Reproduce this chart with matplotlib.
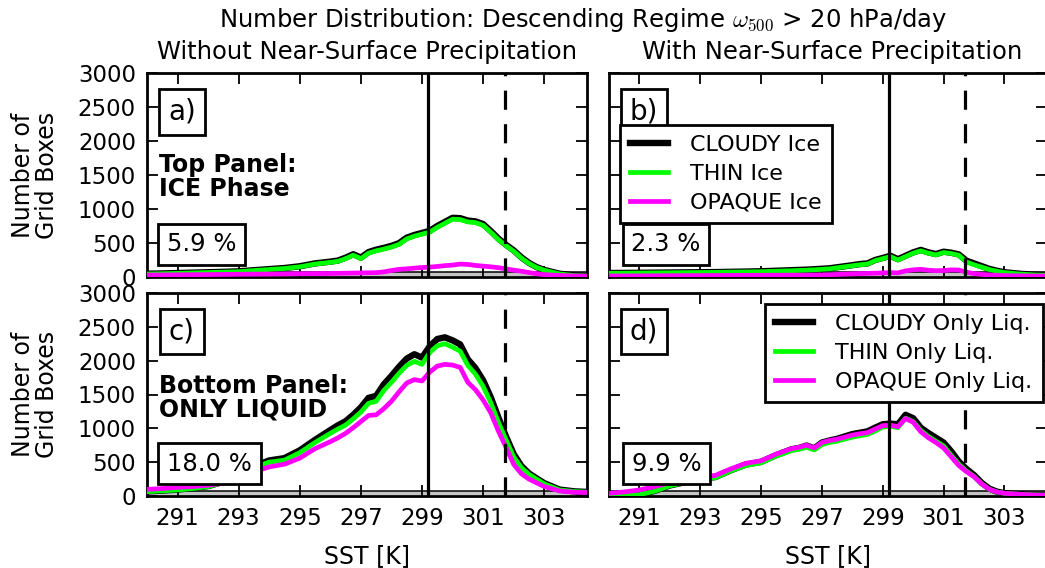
import matplotlib
matplotlib.use('Agg')
import matplotlib.pyplot as plt

plt.rcParams['font.family'] = ['DejaVu Sans']
plt.rcParams['mathtext.fontset'] = 'cm'

# SST bins [K]
sst = [290, 290.5, 291, 291.5, 292, 292.5, 293, 293.5, 294, 294.5, 295, 295.5, 296,
       296.25, 296.5, 296.75, 297, 297.25, 297.5, 297.75, 298, 298.25, 298.5, 298.75,
       299, 299.25, 299.5, 299.75, 300, 300.25, 300.5, 300.75, 301, 301.25, 301.5,
       301.75, 302, 302.25, 302.5, 302.75, 303, 303.5, 304, 304.5]

# a) ice phase, without near-surface precipitation
a_cloudy = [48, 52, 58, 64, 70, 76, 83, 100, 116, 132, 158, 200, 226,
            242, 284, 335, 285, 366, 402, 428, 458, 498, 578, 618, 648, 678, 750, 810,
            870, 865, 830, 818, 778, 676, 565, 474, 392, 290, 208, 146, 104, 48, 22, 13]
a_thin = [44, 48, 54, 60, 66, 72, 78, 95, 110, 125, 150, 190, 215,
          230, 270, 320, 270, 350, 385, 410, 440, 480, 560, 600, 630, 660, 730, 790,
          850, 845, 810, 800, 760, 660, 550, 460, 380, 280, 200, 140, 100, 45, 20, 12]
a_opaque = [29, 30, 32, 34, 36, 38, 40, 42, 43, 45, 48, 50, 52,
            54, 56, 58, 60, 62, 64, 75, 95, 113, 120, 130, 140, 145, 155, 167,
            175, 190, 185, 170, 160, 150, 137, 120, 100, 85, 65, 48, 35, 22, 15, 12]

# b) ice phase, with near-surface precipitation
b_cloudy = [58, 60, 62, 64, 66, 68, 70, 72, 76, 80, 84, 92, 100,
            104, 108, 114, 121, 128, 143, 158, 174, 190, 200, 250, 280, 312, 262, 312,
            362, 398, 362, 337, 372, 357, 332, 240, 200, 160, 120, 92, 70, 48, 32, 26]
b_thin = [54, 56, 58, 60, 62, 64, 66, 68, 72, 75, 78, 85, 92,
          96, 100, 106, 113, 120, 135, 150, 165, 180, 190, 240, 270, 300, 250, 300,
          350, 385, 350, 325, 360, 345, 320, 220, 180, 145, 110, 85, 65, 44, 30, 25]
b_opaque = [15, 16, 17, 18, 19, 20, 21, 22, 23, 24, 25, 26, 27,
            27, 28, 28, 29, 33, 38, 42, 46, 50, 53, 56, 60, 65, 60, 90,
            105, 113, 100, 92, 95, 105, 103, 70, 50, 38, 30, 25, 20, 17, 15, 15]

# c) only liquid, without near-surface precipitation
c_cloudy = [68, 80, 95, 117, 146, 210, 305, 440, 525, 560, 675, 830, 975,
            1045, 1105, 1200, 1310, 1450, 1480, 1650, 1775, 1910, 2030, 2095,
            2045, 2210, 2320, 2345, 2300, 2240, 2020, 1890, 1710, 1460, 1160,
            880, 620, 445, 335, 260, 190, 95, 68, 58]
c_thin = [64, 75, 89, 110, 138, 200, 290, 420, 500, 530, 640, 790, 926,
          990, 1049, 1140, 1240, 1370, 1400, 1560, 1680, 1813, 1930, 1990,
          1945, 2120, 2220, 2250, 2200, 2140, 1930, 1800, 1620, 1380, 1090,
          830, 580, 420, 320, 250, 180, 90, 65, 55]
c_opaque = [98, 110, 128, 140, 158, 190, 250, 360, 430, 470, 560, 700, 803,
            860, 926, 1010, 1100, 1190, 1200, 1290, 1400, 1540, 1670, 1720,
            1700, 1830, 1920, 1945, 1935, 1900, 1680, 1570, 1420, 1230, 960,
            720, 470, 330, 250, 195, 140, 75, 55, 50]

# d) only liquid, with near-surface precipitation
d_cloudy = [25, 20, 25, 75, 155, 205, 255, 280, 380, 465, 505, 605, 690,
            710, 745, 705, 790, 820, 845, 880, 915, 935, 955, 1010, 1060, 1070,
            1060, 1200, 1150, 1010, 930, 860, 790, 660, 510, 400, 310, 195, 110,
            65, 42, 25, 15, 12]
d_thin = [20, 15, 20, 70, 150, 200, 250, 270, 370, 450, 490, 590, 670,
          690, 720, 680, 760, 790, 810, 840, 870, 890, 910, 960, 1020, 1030,
          1010, 1150, 1100, 970, 880, 810, 740, 600, 470, 370, 290, 180, 100,
          60, 40, 25, 15, 12]
d_opaque = [39, 60, 89, 140, 195, 240, 280, 305, 400, 483, 520, 620, 700,
            720, 750, 710, 790, 820, 840, 870, 900, 920, 937, 990, 1040, 1045,
            1025, 1145, 1090, 950, 860, 790, 710, 580, 450, 360, 286, 180, 100,
            60, 40, 25, 15, 12]

ice_labels = ["CLOUDY Ice", "THIN Ice", "OPAQUE Ice"]
liq_labels = ["CLOUDY Only Liq.", "THIN Only Liq.", "OPAQUE Only Liq."]
fractions = ["5.9 %", "2.3 %", "18.0 %", "9.9 %"]
panel_tags = ["a)", "b)", "c)", "d)"]

sst_ascent = 299.2   # solid line
sst_thresh = 301.7   # dashed line

colors = ['black', '#00ff00', '#ff00ff']
widths = [4.6, 3.4, 3.4]

fig = plt.figure(figsize=(10.45, 5.68), dpi=100)
W, H = 1045.0, 568.0


def box_axes(left, top, right, bottom):
    return fig.add_axes([left / W, 1 - bottom / H, (right - left) / W, (bottom - top) / H])


ax_a = box_axes(147, 73, 587, 277)
ax_b = box_axes(609, 73, 1047, 277)
ax_c = box_axes(147, 293, 587, 496)
ax_d = box_axes(609, 293, 1047, 496)

panels = [
    (ax_a, [a_cloudy, a_thin, a_opaque], ice_labels),
    (ax_b, [b_cloudy, b_thin, b_opaque], ice_labels),
    (ax_c, [c_cloudy, c_thin, c_opaque], liq_labels),
    (ax_d, [d_cloudy, d_thin, d_opaque], liq_labels),
]

for i, (ax, series, labels) in enumerate(panels):
    ax.axhline(40, color='#c4c4c4', lw=2.8, zorder=1)
    ax.axhline(75, color='black', lw=1.1, zorder=1)
    for vals, col, lw, lab in zip(series, colors, widths, labels):
        ax.plot(sst, vals, color=col, lw=lw, label=lab, solid_joinstyle='round', zorder=3)
    ax.axvline(sst_ascent, color='black', lw=2.3, zorder=4)
    ax.axvline(sst_thresh, color='black', lw=2.3, dashes=(6, 4.5), zorder=4)

    ax.set_xlim(290, 304.4)
    ax.set_ylim(0, 3000)
    ax.set_xticks(range(291, 304, 2))
    ax.set_yticks(range(0, 3001, 500))
    ax.tick_params(direction='in', length=8, width=1.3, top=True, right=True,
                   labelsize=16.5, pad=8)
    for sp in ax.spines.values():
        sp.set_linewidth(2)

    ax.text(0.079, 0.81, panel_tags[i], transform=ax.transAxes, fontsize=20,
            ha='center', va='center', zorder=5,
            bbox=dict(boxstyle='square,pad=0.32', fc='white', ec='black', lw=2))
    fx = [0.124, 0.13, 0.142, 0.132][i]
    ax.text(fx, 0.16, fractions[i], transform=ax.transAxes, fontsize=17.5,
            ha='center', va='center', zorder=5,
            bbox=dict(boxstyle='square,pad=0.36', fc='white', ec='black', lw=2))

ax_a.text(0.027, 0.488, "Top Panel:\nICE Phase", transform=ax_a.transAxes,
          fontsize=17, fontweight='bold', ha='left', va='center', linespacing=1.0)
ax_c.text(0.027, 0.485, "Bottom Panel:\nONLY LIQUID", transform=ax_c.transAxes,
          fontsize=17, fontweight='bold', ha='left', va='center', linespacing=1.0)

leg_kw = dict(fontsize=16, fancybox=False, edgecolor='black', framealpha=1,
              handlelength=1.7, handletextpad=1.0, labelspacing=0.4, borderpad=0.45,
              borderaxespad=0)
lb = ax_b.legend(loc='upper left', bbox_to_anchor=(0.025, 0.745), **leg_kw)
lb.get_frame().set_linewidth(2)
lb.set_zorder(10)
ld = ax_d.legend(loc='upper right', bbox_to_anchor=(0.99, 0.946), **leg_kw)
ld.get_frame().set_linewidth(2)
ld.set_zorder(10)

ax_a.tick_params(labelbottom=False)
ax_b.tick_params(labelbottom=False, labelleft=False)
ax_d.tick_params(labelleft=False)

for ax in (ax_c, ax_d):
    ax.set_xlabel("SST [K]", fontsize=17, labelpad=10)

for yc in (175, 394.5):
    fig.text(35 / W, 1 - yc / H, "Number of\nGrid Boxes", rotation=90, fontsize=17,
             ha='center', va='center', linespacing=0.95)

fig.text(367 / W, 1 - 52 / H, "Without Near-Surface Precipitation", fontsize=17.5,
         ha='center', va='center')
fig.text(832 / W, 1 - 52 / H, "With Near-Surface Precipitation", fontsize=17.5,
         ha='center', va='center')
fig.text(583 / W, 1 - 20 / H,
         r"Number Distribution: Descending Regime $\omega_{500}$ > 20 hPa/day",
         fontsize=17.5, ha='center', va='center')

fig.savefig('out.png', dpi=100)
